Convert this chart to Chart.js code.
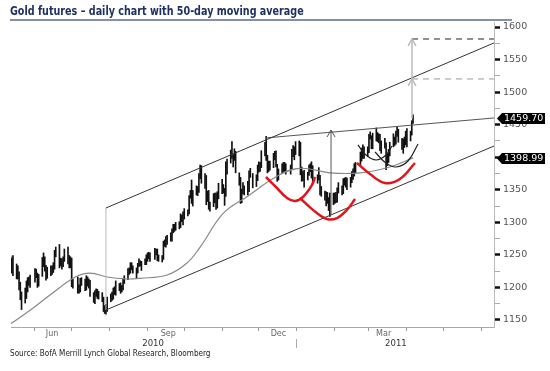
<!DOCTYPE html>
<html>
<head>
<meta charset="utf-8">
<script src="https://cdn.jsdelivr.net/npm/chart.js@4.4.0/dist/chart.umd.min.js"></script>
<style>
  body { margin: 0; background: #fff; width: 550px; height: 371px; overflow: hidden; position: relative; }
  #title { position: absolute; left: 10px; top: 3px; width: 502px; padding-bottom: 1px;
    border-bottom: 2px solid #8390a6; color: #1f3163; white-space: nowrap;
    font: bold 13px "Liberation Sans Narrow", "DejaVu Sans Condensed", "Liberation Sans", sans-serif; }
  #title span { display: inline-block; transform: scaleX(0.82); transform-origin: 0 0; }
  #wrap { position: absolute; left: 0; top: 0; }
  #source { position: absolute; left: 10px; top: 348px; color: #222; white-space: nowrap;
    font: 9px "Liberation Sans Narrow", "DejaVu Sans Condensed", "Liberation Sans", sans-serif;
    transform: scaleX(0.9); transform-origin: 0 0; }
</style>
</head>
<body>
<div id="wrap"><canvas id="goldChart" width="550" height="360"></canvas></div>
<div id="title"><span>Gold futures – daily chart with 50-day moving average</span></div>
<div id="source">Source: BofA Merrill Lynch Global Research, Bloomberg</div>
<script>
// daily bars, one array per month: [high, low, close]
const may10 = [[1248,1226,1243],[1245,1222,1227],[1249,1218,1228],[1236,1213,1225],[1233,1213,1223],[1224,1196,1204],[1208,1181,1190],[1193,1166,1177],[1199,1176,1195],[1210,1183,1197],[1215,1193,1211],[1216,1203,1212],[1219,1200,1216]];
const jun10 = [[1229,1208,1223],[1228,1215,1221],[1222,1200,1208],[1220,1202,1218],[1246,1217,1240],[1253,1232,1245],[1247,1225,1232],[1234,1211,1223],[1231,1214,1228],[1233,1218,1226],[1233,1220,1229],[1238,1223,1233],[1257,1228,1255],[1262,1247,1256],[1266,1230,1235],[1245,1233,1241],[1244,1228,1236],[1247,1232,1245],[1259,1240,1256],[1262,1236,1239],[1249,1230,1238],[1247,1230,1244]];
const jul10 = [[1245,1201,1207],[1213,1199,1210],[1216,1191,1195],[1204,1191,1195],[1214,1193,1209],[1215,1203,1210],[1213,1195,1198],[1218,1196,1214],[1216,1202,1208],[1213,1199,1207],[1211,1186,1189],[1192,1177,1180],[1195,1175,1191],[1198,1186,1193],[1197,1183,1192],[1194,1182,1188],[1192,1178,1183],[1185,1163,1166],[1172,1160,1163],[1174,1159,1168],[1185,1163,1181]];
const aug10 = [[1190,1178,1184],[1193,1180,1185],[1199,1182,1196],[1201,1189,1196],[1210,1188,1205],[1206,1195,1200],[1207,1191,1198],[1203,1193,1199],[1213,1196,1212],[1218,1206,1215],[1229,1212,1226],[1230,1220,1227],[1238,1222,1233],[1238,1227,1233],[1233,1222,1228],[1230,1215,1227],[1237,1222,1233],[1244,1232,1238],[1241,1233,1238],[1240,1226,1237],[1244,1235,1238],[1250,1235,1248]];
const sep10 = [[1253,1240,1250],[1254,1244,1250],[1253,1240,1246],[1260,1243,1257],[1259,1250,1255],[1259,1241,1245],[1250,1240,1246],[1249,1239,1245],[1271,1243,1268],[1273,1263,1270],[1278,1262,1274],[1280,1266,1276],[1284,1271,1278],[1290,1271,1287],[1297,1284,1292],[1297,1286,1292],[1300,1288,1297],[1301,1290,1298],[1313,1292,1309],[1311,1301,1307],[1316,1296,1307]];
const oct10 = [[1321,1305,1317],[1319,1310,1315],[1341,1313,1340],[1349,1337,1347],[1365,1329,1334],[1349,1325,1345],[1356,1342,1352],[1355,1341,1349],[1375,1346,1371],[1388,1367,1380],[1387,1360,1372],[1375,1352,1369],[1372,1327,1333],[1348,1332,1344],[1349,1320,1327],[1331,1317,1325],[1344,1324,1340],[1345,1330,1338],[1345,1320,1325],[1347,1322,1344],[1360,1336,1358]];
const nov10 = [[1366,1344,1352],[1358,1345,1356],[1352,1326,1337],[1393,1340,1382],[1397,1374,1394],[1411,1391,1403],[1424,1398,1410],[1404,1385,1400],[1413,1395,1410],[1409,1376,1367],[1376,1357,1366],[1369,1329,1338],[1351,1330,1338],[1361,1344,1355],[1356,1342,1352],[1363,1342,1356],[1379,1347,1376],[1383,1369,1374],[1375,1353,1362],[1373,1355,1366],[1388,1364,1386]];
const dec10 = [[1393,1377,1389],[1392,1378,1390],[1410,1384,1406],[1423,1402,1415],[1432,1395,1400],[1403,1376,1383],[1394,1378,1391],[1394,1380,1385],[1406,1384,1405],[1409,1396,1397],[1410,1385,1388],[1389,1363,1371],[1382,1365,1378],[1390,1375,1384],[1392,1378,1388],[1392,1378,1387],[1390,1374,1381],[1388,1374,1383],[1412,1381,1405],[1418,1401,1412],[1416,1396,1406],[1424,1404,1421]];
const jan11 = [[1425,1402,1422],[1423,1373,1379],[1385,1363,1373],[1378,1364,1371],[1380,1354,1369],[1377,1365,1375],[1388,1372,1385],[1390,1378,1386],[1393,1368,1387],[1387,1359,1361],[1373,1360,1370],[1384,1365,1373],[1372,1342,1345],[1355,1340,1342],[1348,1334,1344],[1347,1325,1335],[1346,1329,1343],[1338,1318,1319],[1345,1309,1341],[1345,1327,1333]];
const feb11 = [[1345,1329,1341],[1346,1330,1334],[1353,1331,1352],[1361,1345,1348],[1356,1342,1352],[1367,1344,1364],[1368,1357,1364],[1369,1354,1364],[1368,1350,1361],[1369,1354,1363],[1378,1361,1374],[1382,1366,1375],[1390,1371,1385],[1392,1376,1388],[1408,1388,1401],[1414,1394,1410],[1419,1398,1416],[1416,1398,1409],[1416,1401,1411]];
const mar11 = [[1435,1407,1434],[1439,1428,1437],[1433,1413,1416],[1437,1413,1428],[1445,1425,1434],[1438,1424,1427],[1436,1422,1433],[1435,1410,1412],[1425,1406,1421],[1429,1414,1421],[1422,1381,1394],[1405,1387,1395],[1412,1392,1404],[1423,1402,1419],[1436,1416,1426],[1431,1418,1425],[1440,1420,1438],[1447,1432,1437],[1443,1423,1426],[1429,1412,1416],[1428,1406,1417],[1431,1415,1424],[1440,1419,1439]];
const apr11 = [[1444,1416,1429],[1440,1425,1437],[1456,1434,1455],[1465,1452,1459.70]];

// 50-day moving average (day 0 = 1 Jun 2010)
const maDays   = [-20, -4, 12, 33, 45, 59, 74, 86, 108, 124, 135, 154, 173, 200, 217, 241, 266, 290, 309];
const maValues = [1144, 1165, 1188, 1216, 1222, 1216, 1213, 1214, 1219, 1237, 1262, 1314, 1339, 1373, 1383, 1376, 1376, 1385, 1398.99];

// drawn annotations, [day, price]
const channelTop    = [[58, 1322], [375.2, 1575.5]];
const channelBottom = [[58, 1165.3], [375.2, 1417.2]];
const channelStart  = [[58, 1165.3], [58, 1322]];
const neckline      = [[188, 1429.5], [375.2, 1460.3]];
const measureArrow  = [[242, 1311], [242, 1441.8]];
const measureHead   = [[238.7, 1431], [242, 1441.8], [245.3, 1431]];
const targetArrow   = [[308.2, 1460], [308.2, 1581.6]];
const targetHead1   = [[305, 1509.5], [308.2, 1520.2], [311.4, 1509.5]];
const targetHead2   = [[305, 1571], [308.2, 1581.6], [311.4, 1571]];
const target1       = [[308.2, 1520.2], [375.2, 1520.2]];
const target2       = [[308.2, 1581.6], [375.2, 1581.6]];
const redLeft  = [[188.8, 1369.6], [197.8, 1352.7], [206, 1337.4], [212.5, 1332.8], [219, 1338.9], [226.4, 1357.3], [228.9, 1369.6]];
const redHead  = [[216.6, 1337.4], [227.2, 1319.1], [238.7, 1305.1], [246.9, 1306.6], [255, 1319.1], [261.6, 1335.9]];
const redRight = [[263.2, 1391.1], [273.8, 1374.2], [286.1, 1360.4], [298.3, 1366.5], [310.6, 1391.1]];
const blackLeft  = [[264, 1418.8], [270.6, 1403.4], [278.8, 1395.7], [287, 1403.4], [291.8, 1417.2]];
const blackRight = [[277.9, 1408], [286.9, 1391.1], [295.1, 1385], [304.9, 1394.2], [313.1, 1420.3]];

// axis ticks
const monthStarts = [0, 30, 61, 92, 122, 153, 183, 214, 245, 273, 304, 334, 365];
const monthLabelDays = [14, 109, 199, 285];
const monthLabels = ['Jun', 'Sep', 'Dec', 'Mar'];
const yearLabelDays = [96.5, 214, 295];
const yearLabels = ['2010', '', '2011'];
const yTicks = [1150,1175,1200,1225,1250,1275,1300,1325,1350,1375,1400,1425,1450,1475,1500,1525,1550,1575,1600];
const holidays = ['2010-05-31','2010-07-05','2010-09-06','2010-11-25','2010-12-24','2011-01-17','2011-02-21'];

const ohlc = [].concat(may10, jun10, jul10, aug10, sep10, oct10, nov10, dec10, jan11, feb11, mar11, apr11);
const ORIGIN = Date.UTC(2010, 5, 1);
const tradingDays = [];
let t = Date.UTC(2010, 4, 12);
while (tradingDays.length < ohlc.length) {
  const dt = new Date(t);
  const wd = dt.getUTCDay();
  if (wd !== 0 && wd !== 6 && !holidays.includes(dt.toISOString().slice(0, 10))) tradingDays.push((t - ORIGIN) / 864e5);
  t += 864e5;
}

function seg(pts, color, width, extra) {
  return Object.assign({
    type: 'line', data: pts.map(p => ({x: p[0], y: p[1]})),
    borderColor: color, borderWidth: width, pointRadius: 0, tension: 0, fill: false
  }, extra || {});
}

const lastClose = ohlc[ohlc.length - 1][2];
const lastMA = maValues[maValues.length - 1];

const priceTags = {
  id: 'priceTags',
  afterDraw(chart) {
    const ctx = chart.ctx, y = chart.scales.y;
    [[lastClose, lastClose.toFixed(2)], [lastMA, lastMA.toFixed(2)]].forEach(([v, txt]) => {
      const py = Math.round(y.getPixelForValue(v)) + 0.5;
      const x0 = y.left + 3;
      ctx.save();
      ctx.fillStyle = '#000';
      ctx.beginPath();
      ctx.moveTo(x0, py);
      ctx.lineTo(x0 + 5, py - 5.5);
      ctx.lineTo(545, py - 5.5);
      ctx.lineTo(545, py + 5.5);
      ctx.lineTo(x0 + 5, py + 5.5);
      ctx.closePath();
      ctx.fill();
      ctx.fillStyle = '#fff';
      ctx.font = '9.5px "DejaVu Sans"';
      ctx.textBaseline = 'middle';
      ctx.fillText(txt, x0 + 7, py + 0.5);
      ctx.restore();
    });
  }
};

new Chart(document.getElementById('goldChart'), {
  type: 'bar',
  data: {
    datasets: [
      seg(redLeft, '#e3141b', 2.5, {tension: 0.4}),
      seg(redHead, '#e3141b', 2.5, {tension: 0.4}),
      seg(redRight, '#e3141b', 2.5, {tension: 0.4}),
      seg(blackLeft, '#222', 1.2, {tension: 0.4}),
      seg(blackRight, '#222', 1.2, {tension: 0.4}),
      seg(measureArrow, '#555', 1),
      seg(measureHead, '#555', 1),
      seg(targetArrow, '#bbb', 1.5),
      seg(targetHead1, '#bbb', 1.5),
      seg(targetHead2, '#bbb', 1.5),
      seg(target1, '#999', 1, {borderDash: [6, 5]}),
      seg(target2, '#222', 1, {borderDash: [6, 5]}),
      seg(channelTop, '#333', 1),
      seg(channelBottom, '#333', 1),
      seg(channelStart, '#bbb', 1),
      seg(neckline, '#555', 1),
      seg(maDays.map((d, i) => [d, maValues[i]]), '#888', 1.2, {tension: 0.4}),
      {
        type: 'bar',
        data: ohlc.map((r, i) => ({x: tradingDays[i], y: [r[1], r[0]]})),
        backgroundColor: '#111', borderWidth: 0, barThickness: 1
      }
    ]
  },
  options: {
    responsive: false,
    animation: false,
    devicePixelRatio: 1,
    layout: {padding: {left: 11, top: 22, right: 0, bottom: 9}},
    plugins: {legend: {display: false}, tooltip: {enabled: false}},
    scales: {
      x: {
        type: 'linear', position: 'bottom', min: -19.6, max: 375.2, offset: false,
        afterBuildTicks: s => { s.ticks = monthStarts.map(v => ({value: v})); },
        afterFit: s => { s.height = 2; },
        ticks: {callback: () => '', padding: 0},
        grid: {drawOnChartArea: false, offset: false, tickLength: 4, tickColor: '#999'},
        border: {color: '#aaa'}
      },
      xm: {
        type: 'linear', position: 'bottom', min: -19.6, max: 375.2, offset: false,
        afterBuildTicks: s => { s.ticks = monthLabelDays.map(v => ({value: v})); },
        afterFit: s => { s.height = 10; },
        ticks: {callback: (v, i) => monthLabels[i], padding: 0, maxRotation: 0, autoSkip: false,
          color: '#666', font: {family: 'DejaVu Sans', size: 8}},
        grid: {display: false, drawTicks: false, offset: false},
        border: {display: false}
      },
      xy: {
        type: 'linear', position: 'bottom', min: -19.6, max: 375.2, offset: false,
        afterBuildTicks: s => { s.ticks = yearLabelDays.map(v => ({value: v})); },
        afterFit: s => { s.height = 12; },
        ticks: {callback: (v, i) => yearLabels[i], padding: -9, maxRotation: 0, autoSkip: false,
          color: '#333', font: {family: 'DejaVu Sans', size: 8.5}},
        grid: {drawOnChartArea: false, offset: false, tickLength: 9,
          tickColor: c => (c.tick && c.tick.value === 214) ? '#aaa' : 'rgba(0,0,0,0)'},
        border: {display: false}
      },
      y: {
        type: 'linear', position: 'right', min: 1139.2, max: 1607.7,
        afterBuildTicks: s => { s.ticks = yTicks.map(v => ({value: v})); },
        afterFit: s => { s.width = 56; },
        ticks: {callback: v => (v % 50 === 0 ? String(v) : ''), padding: 3, color: '#555',
          font: {family: 'DejaVu Sans', size: 9.5}},
        grid: {drawOnChartArea: false, tickLength: 6,
          tickColor: c => (c.tick && c.tick.value % 50 === 0) ? '#111' : '#aaa',
          tickWidth: c => (c.tick && c.tick.value % 50 === 0) ? 2.5 : 1},
        border: {color: '#bbb'}
      }
    }
  },
  plugins: [priceTags]
});
</script>
</body>
</html>
